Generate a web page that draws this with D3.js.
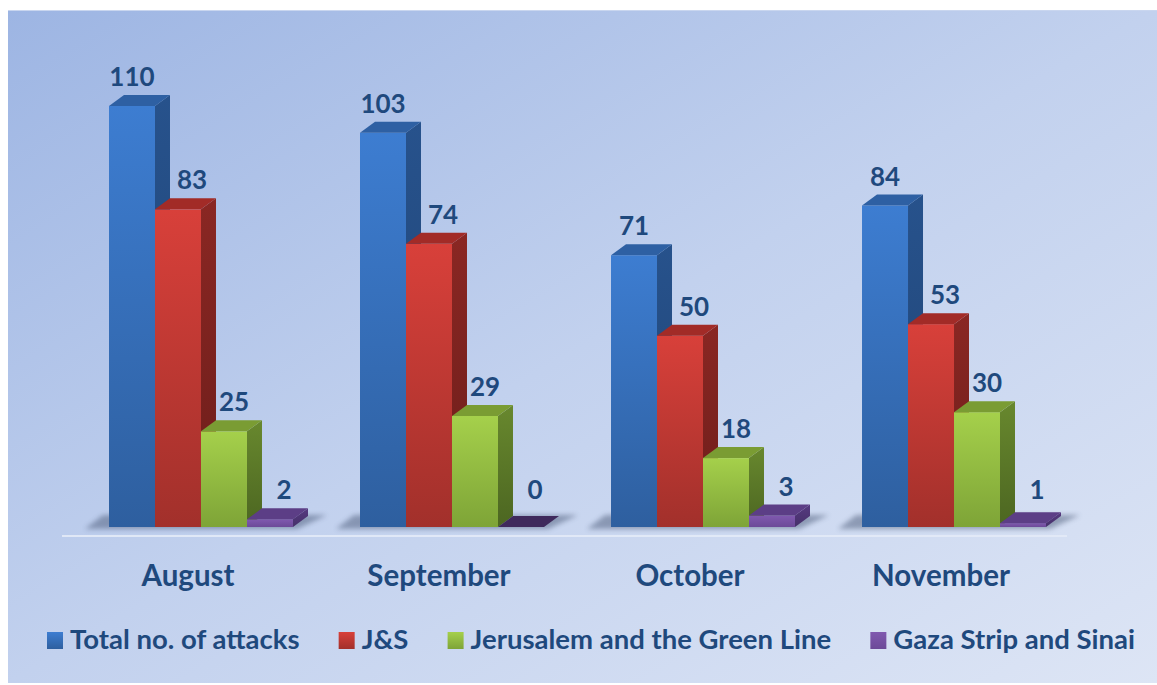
<!DOCTYPE html>
<html>
<head>
<meta charset="utf-8">
<script src="https://cdn.jsdelivr.net/npm/d3@7"></script>
<style>
  html, body { margin: 0; padding: 0; background: #ffffff; }
  svg { display: block; }
  text { font-family: Lato, "Open Sans", sans-serif; font-weight: 700; fill: #1F497D; }
</style>
</head>
<body>
<svg id="chart" width="1157" height="685"></svg>
<script>
// ---- data ----
const months = ["August", "September", "October", "November"];
const seriesNames = ["Total no. of attacks", "J&S", "Jerusalem and the Green Line", "Gaza Strip and Sinai"];
const totalAttacks = [110, 103, 71, 84];
const jsAttacks = [83, 74, 50, 53];
const jerusalemAttacks = [25, 29, 18, 30];
const gazaAttacks = [2, 0, 3, 1];

const seriesValues = [totalAttacks, jsAttacks, jerusalemAttacks, gazaAttacks];

// ---- styling ----
const palette = [
  { front: ["#3D7DD1", "#2E5F9F"], side: ["#27528C", "#1F4373"], top: "#2E60A3" },
  { front: ["#D8403A", "#A2302B"], side: ["#8A2723", "#6C1D1A"], top: "#A22B27" },
  { front: ["#A5D04B", "#7EA437"], side: ["#68882E", "#4C6621"], top: "#7A9C33" },
  { front: ["#8059AF", "#6C4A98"], side: ["#563A80", "#46306A"], top: "#5C3E86" }
];
const labelDx = [0, 14, 10, 14];
const depthX = 15, depthY = 11;

const svg = d3.select("#chart");
const defs = svg.append("defs");

const bg = defs.append("linearGradient").attr("id", "bg")
  .attr("x1", 0).attr("y1", 0).attr("x2", 1).attr("y2", 1);
bg.append("stop").attr("offset", 0).attr("stop-color", "#9DB5E3");
bg.append("stop").attr("offset", 0.5).attr("stop-color", "#C2D1EE");
bg.append("stop").attr("offset", 1).attr("stop-color", "#DDE5F5");

palette.forEach((p, i) => {
  const gf = defs.append("linearGradient").attr("id", "front" + i)
    .attr("x1", 0).attr("y1", 0).attr("x2", 0).attr("y2", 1);
  gf.append("stop").attr("offset", 0).attr("stop-color", p.front[0]);
  gf.append("stop").attr("offset", 1).attr("stop-color", p.front[1]);
  const gs = defs.append("linearGradient").attr("id", "side" + i)
    .attr("x1", 0).attr("y1", 0).attr("x2", 0).attr("y2", 1);
  gs.append("stop").attr("offset", 0).attr("stop-color", p.side[0]);
  gs.append("stop").attr("offset", 1).attr("stop-color", p.side[1]);
  const gl = defs.append("linearGradient").attr("id", "leg" + i)
    .attr("x1", 0).attr("y1", 0).attr("x2", 0).attr("y2", 1);
  gl.append("stop").attr("offset", 0).attr("stop-color", p.front[0]);
  gl.append("stop").attr("offset", 1).attr("stop-color", p.front[1]);
});

const blur = defs.append("filter").attr("id", "blur")
  .attr("x", "-20%").attr("y", "-100%").attr("width", "140%").attr("height", "300%");
blur.append("feGaussianBlur").attr("stdDeviation", 2.5);

// background panel
svg.append("rect").attr("x", 8).attr("y", 10).attr("width", 1149).attr("height", 673)
  .attr("fill", "url(#bg)");
svg.append("line").attr("x1", 8).attr("x2", 1157).attr("y1", 10.5).attr("y2", 10.5)
  .attr("stroke", "#C9D6EF").attr("stroke-width", 1);

// ---- scales ----
const x0 = d3.scaleBand().domain(months).range([109, 1046]).paddingInner(0.267);
const x1 = d3.scaleBand().domain(seriesNames).range([0, x0.bandwidth()]);
const y = d3.scaleLinear().domain([0, 110]).range([527, 106]);
const base = y(0);

// floor line
svg.append("line").attr("x1", 62).attr("x2", 1067).attr("y1", 536).attr("y2", 536)
  .attr("stroke", "#E4EBF8").attr("stroke-width", 2).attr("opacity", 0.9);

// floor shadows
months.forEach(m => {
  const gx = x0(m), gw = x0.bandwidth();
  const pts = [[gx - 24, base + 2], [gx + gw + 4, base + 2], [gx + gw + 34, base - 12], [gx - 6, base - 12]];
  svg.append("polygon").attr("points", pts.map(p => p.join(",")).join(" "))
    .attr("fill", "#3E4E6C").attr("opacity", 0.45).attr("filter", "url(#blur)");
});

// ---- bars ----
const barsG = svg.append("g");
months.forEach((m, mi) => {
  seriesNames.forEach((s, si) => {
    const v = seriesValues[si][mi];
    const bx = x0(m) + x1(s), bw = x1.bandwidth();
    const top = y(v);
    const g = barsG.append("g");
    // side
    g.append("polygon")
      .attr("points", [[bx + bw, top], [bx + bw + depthX, top - depthY], [bx + bw + depthX, base - depthY], [bx + bw, base]]
        .map(p => p.join(",")).join(" "))
      .attr("fill", `url(#side${si})`);
    // front
    g.append("rect").attr("x", bx).attr("y", top).attr("width", bw).attr("height", base - top)
      .attr("fill", `url(#front${si})`);
    // top
    g.append("polygon")
      .attr("points", [[bx, top], [bx + depthX, top - depthY], [bx + bw + depthX, top - depthY], [bx + bw, top]]
        .map(p => p.join(",")).join(" "))
      .attr("fill", v === 0 ? "#3F2A5C" : palette[si].top);
  });
});

// value labels
months.forEach((m, mi) => {
  seriesNames.forEach((s, si) => {
    const v = seriesValues[si][mi];
    const cx = x0(m) + x1(s) + x1.bandwidth() / 2 + labelDx[si];
    const by = Math.min(y(v) - 20, 499);
    svg.append("text").attr("x", cx).attr("y", by).attr("text-anchor", "middle")
      .style("font-size", "26px").text(v);
  });
});

// category axis
const axisG = svg.append("g").attr("transform", "translate(-13,0)")
  .call(d3.axisBottom(x0).tickSize(0));
axisG.select(".domain").remove();
axisG.selectAll("text").attr("y", 586).attr("dy", null)
  .style("font-size", "29.5px").style("font-family", "Lato, sans-serif").style("font-weight", 700)
  .attr("fill", "#1F497D");

// legend (justified between left and right limits)
const legend = svg.append("g");
const legLeft = 47, legRight = 1135, markerW = 16, markerGap = 7;
const items = seriesNames.map((s, i) => {
  const t = legend.append("text").attr("y", 649).style("font-size", "27.5px").text(s);
  return { t, w: t.node().getComputedTextLength(), i };
});
const used = d3.sum(items, d => d.w + markerW + markerGap);
const gap = (legRight - legLeft - used) / (items.length - 1);
let lx = legLeft;
items.forEach(d => {
  legend.append("rect").attr("x", lx).attr("y", 632).attr("width", markerW).attr("height", 17)
    .attr("fill", `url(#leg${d.i})`);
  d.t.attr("x", lx + markerW + markerGap);
  lx += markerW + markerGap + d.w + gap;
});
</script>
</body>
</html>
